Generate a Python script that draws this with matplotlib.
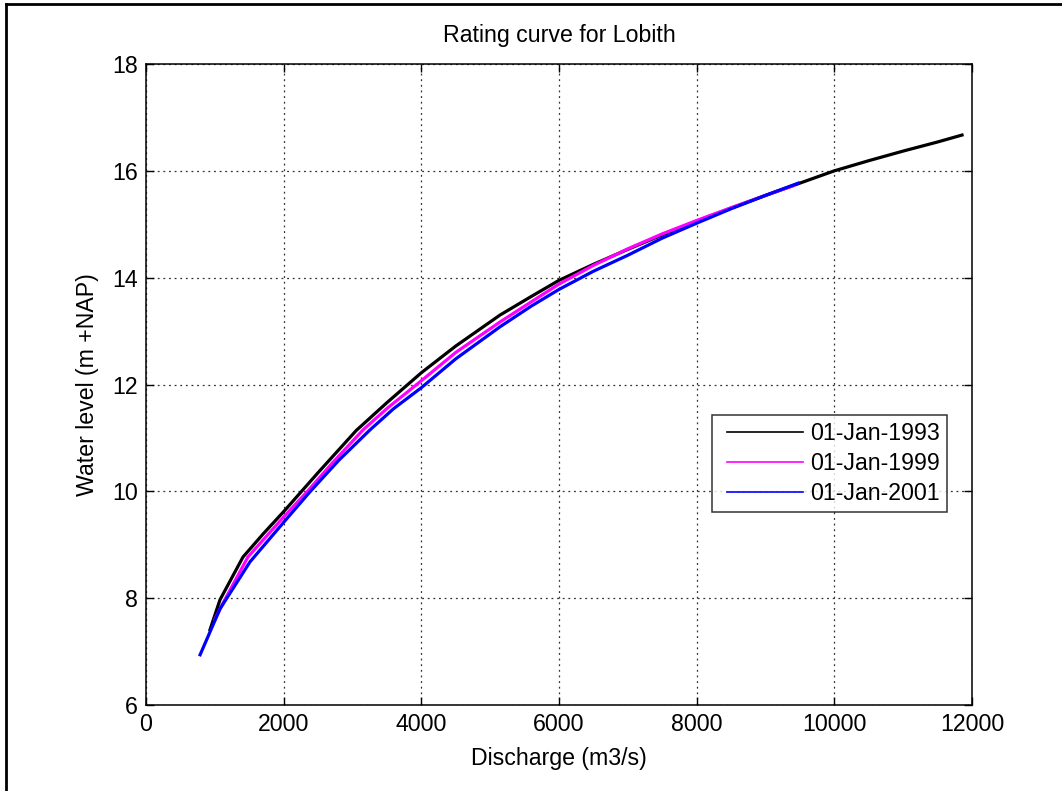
import matplotlib
matplotlib.use("Agg")
import matplotlib.pyplot as plt
from matplotlib.lines import Line2D
from matplotlib.legend_handler import HandlerLine2D

# Data
q_1993 = [930, 1075, 1409, 1700, 2000, 2500, 3055, 3500, 4000, 4500, 5143, 5600, 6000,
          6500, 7000, 7500, 8000, 8500, 9000, 9500, 10000, 10500, 11000, 11500, 11855]
h_1993 = [7.41, 7.97, 8.77, 9.20, 9.62, 10.35, 11.14, 11.66, 12.22, 12.72, 13.30, 13.65, 13.95,
          14.25, 14.53, 14.80, 15.06, 15.30, 15.54, 15.77, 16.00, 16.19, 16.37, 16.54, 16.67]

q_1999 = [1000, 1120, 1480, 2000, 2338, 2700, 3153, 3500, 4000, 4500, 5143, 5600, 6000,
          6500, 7000, 7500, 8000, 8500, 9000, 9400]
h_1999 = [7.60, 7.91, 8.77, 9.52, 9.99, 10.52, 11.15, 11.55, 12.07, 12.60, 13.17, 13.55, 13.88,
          14.23, 14.54, 14.82, 15.07, 15.31, 15.54, 15.72]

q_2001 = [786, 1075, 1511, 2000, 2381, 2800, 3254, 3600, 4000, 4500, 5143, 5600, 6000,
          6500, 7000, 7500, 8000, 8500, 9000, 9477]
h_2001 = [6.94, 7.80, 8.68, 9.42, 9.99, 10.58, 11.15, 11.55, 11.94, 12.48, 13.08, 13.47, 13.78,
          14.12, 14.42, 14.74, 15.02, 15.29, 15.54, 15.77]

labels = ["01-Jan-1993", "01-Jan-1999", "01-Jan-2001"]
colors = ["black", "magenta", "blue"]

x_ticks = [0, 2000, 4000, 6000, 8000, 10000, 12000]
y_ticks = [6, 8, 10, 12, 14, 16, 18]

plt.rcParams['font.family'] = ['Liberation Sans', 'DejaVu Sans']
FS = 16.7

W, H = 1062, 791
fig = plt.figure(figsize=(W / 100, H / 100), dpi=100)
ax = fig.add_axes([146 / W, 1 - 705 / H, (972 - 146) / W, (705 - 64) / H])

series = [(q_1993, h_1993), (q_1999, h_1999), (q_2001, h_2001)]
for (q, h), c, lab in zip(series, colors, labels):
    ax.plot(q, h, color=c, lw=2.3, label=lab, solid_joinstyle='round')

ax.set_xlim(0, 12000)
ax.set_ylim(6, 18)
ax.set_xticks(x_ticks)
ax.set_yticks(y_ticks)
ax.tick_params(direction='in', length=6, width=1, top=True, right=True,
               labelsize=FS, pad=6)
ax.grid(True, linestyle=(0, (1.5, 3)), color='#333333', lw=0.9)
for s in ax.spines.values():
    s.set_linewidth(1.1)

ax.set_title("Rating curve for Lobith", fontsize=FS, pad=16)
ax.set_xlabel("Discharge (m3/s)", fontsize=FS, labelpad=7.5)
ax.set_ylabel("Water level (m +NAP)", fontsize=FS, labelpad=9)

handles = [Line2D([], [], color=c, lw=1.2) for c in colors]
leg = ax.legend(handles, labels, loc='upper left',
                bbox_to_anchor=(712 / W, 1 - 415 / H), bbox_transform=fig.transFigure,
                fontsize=FS, frameon=True, fancybox=False, edgecolor='black',
                handlelength=3.62, handletextpad=0.3, labelspacing=0.3,
                borderpad=0.3, borderaxespad=0,
                handler_map={Line2D: HandlerLine2D(xpad=0.345)})
leg.get_frame().set_linewidth(1.1)

# figure frame (top and left edges visible)
fig.add_artist(Line2D([6 / W, 1.0], [1 - 4 / H, 1 - 4 / H], transform=fig.transFigure,
                      color='black', lw=2))
fig.add_artist(Line2D([6 / W, 6 / W], [0, 1 - 4 / H], transform=fig.transFigure,
                      color='black', lw=2))

fig.savefig("out.png", dpi=100)
